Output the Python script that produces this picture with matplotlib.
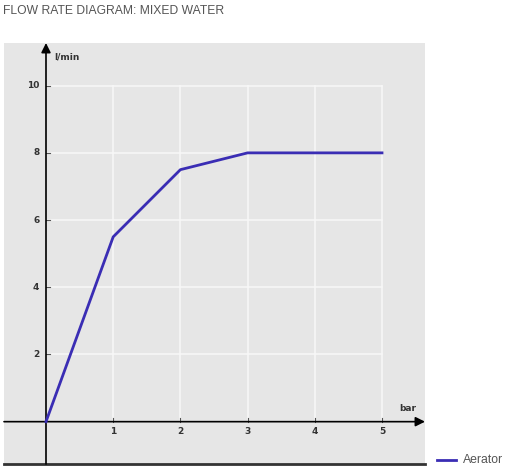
import matplotlib.pyplot as plt
import numpy as np

# flow rate data (pressure in bar vs l/min)
pressure = [0, 1, 2, 3, 4, 5]
flow = [0, 5.5, 7.5, 8, 8, 8]
x_ticks = [1, 2, 3, 4, 5]
y_ticks = [2, 4, 6, 8, 10]
series_name = 'Aerator'

W, H = 508, 473
fig = plt.figure(figsize=(W/100., H/100.), dpi=100)
fig.patch.set_facecolor('white')

# gray panel in pixel coords
left, right, top, bottom = 4, 425, 43, 464
ax = fig.add_axes([left/W, (H-bottom)/H, (right-left)/W, (bottom-top)/H])
ax.set_facecolor('#e6e6e6')

xlims = [-0.625, 5.64]
ylims = [-1.26, 11.27]
ax.set_xlim(xlims)
ax.set_ylim(ylims)

for s in ['top', 'right', 'left']:
    ax.spines[s].set_visible(False)
ax.spines['bottom'].set_color('#333333')
ax.spines['bottom'].set_linewidth(2)
ax.set_xticks([])
ax.set_yticks([])

# white grid, only inside 0..5 x 0..10
for xv in x_ticks:
    ax.plot([xv, xv], [0, 10], color='#f8f8f8', lw=1.1, zorder=1)
for yv in y_ticks:
    ax.plot([0, 5], [yv, yv], color='#f8f8f8', lw=1.1, zorder=1)

# axes with arrows
ax.annotate('', xy=(xlims[1], 0), xytext=(xlims[0], 0),
            arrowprops=dict(arrowstyle='-|>', color='black', lw=1.2,
                            mutation_scale=14, shrinkA=0, shrinkB=0), zorder=3)
ax.annotate('', xy=(0, ylims[1]), xytext=(0, ylims[0]),
            arrowprops=dict(arrowstyle='-|>', color='black', lw=1.2,
                            mutation_scale=14, shrinkA=0, shrinkB=0), zorder=3)

# tick marks and labels
for xv in x_ticks:
    ax.plot([xv, xv], [0, 0.12], color='#555555', lw=0.8, zorder=2)
    ax.text(xv, -0.3, str(xv), ha='center', va='center', fontsize=6.5,
            color='#333333', fontweight='bold')
for yv in y_ticks:
    ax.plot([0, 0.06], [yv, yv], color='#555555', lw=0.8, zorder=2)
    ax.text(-0.1, yv, str(yv), ha='right', va='center', fontsize=6.5,
            color='#333333', fontweight='bold')

ax.text(0.12, 10.85, 'l/min', ha='left', va='center', fontsize=6.5,
        color='#333333', fontweight='bold')
ax.text(5.38, 0.38, 'bar', ha='center', va='center', fontsize=6.5,
        color='#333333', fontweight='bold')

line_color = '#3a2db4'
ax.plot(pressure, flow, color=line_color, lw=2, zorder=4, solid_joinstyle='round')

# title
fig.text(3/W, 1 - 11/H, 'FLOW RATE DIAGRAM: MIXED WATER', ha='left', va='center',
         fontsize=8.7, color='#555555', family='Liberation Sans')

# legend outside panel
fig.lines.append(plt.Line2D([437/W, 456/W], [1 - 460/H, 1 - 460/H],
                            transform=fig.transFigure, color=line_color, lw=2))
fig.text(463/W, 1 - 460/H, series_name, ha='left', va='center', fontsize=8.8,
         color='#555555', family='Liberation Sans')

plt.savefig('out.png', dpi=100)
